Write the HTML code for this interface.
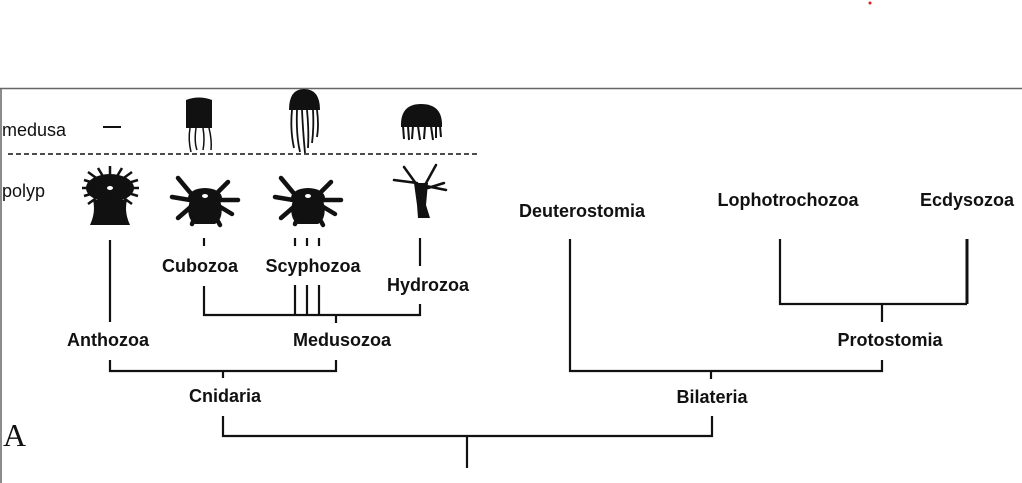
<!DOCTYPE html>
<html><head><meta charset="utf-8"><style>
body{margin:0;background:#fff;}
svg{display:block;}
text{font-family:"Liberation Sans",Arial,sans-serif;font-weight:bold;font-size:18px;fill:#111;}
.n{font-weight:normal;font-size:18px;}
</style></head><body>
<svg width="1022" height="483" viewBox="0 0 1022 483" xmlns="http://www.w3.org/2000/svg">
<rect width="1022" height="483" fill="#fff"/>
<circle cx="870" cy="3" r="1.5" fill="#e02020"/>
<line x1="0" y1="88.5" x2="1022" y2="88.5" stroke="#666" stroke-width="1.5"/>
<line x1="1" y1="88" x2="1" y2="483" stroke="#666" stroke-width="1.5"/>
<text class="n" x="2" y="136">medusa</text>
<text class="n" x="2" y="197">polyp</text>
<line x1="103" y1="127" x2="121" y2="127" stroke="#111" stroke-width="2"/>
<line x1="8" y1="154" x2="478" y2="154" stroke="#111" stroke-width="1.5" stroke-dasharray="5,3"/>
<!-- medusae -->
<g fill="#111" stroke="#111">
<path d="M186 100 Q199 95 212 100 L212 128 L186 128 Z" stroke="none"/>
<path d="M190 128 Q188 140 191 152 M196 128 Q194 142 197 150 M203 128 Q205 140 203 150 M209 128 Q212 140 211 150" fill="none" stroke-width="1.5"/>
<path d="M289 110 Q289 89 304 89 Q320 89 320 110 Z" stroke="none"/>
<path d="M292 110 Q290 130 294 148 M297 110 Q296 135 300 152 M302 110 Q303 132 305 153 M307 110 Q309 130 308 148 M313 110 Q314 128 312 143 M317 110 Q319 125 317 137" fill="none" stroke-width="1.8"/>
<path d="M401 127 Q400 104 421 104 Q443 104 442 127 Z" stroke="none"/>
<path d="M403 126 L404 139 M408 126 L409 140 M413 126 L412 139 M418 126 L420 140 M425 126 L424 139 M431 126 L433 140 M436 126 L436 138 M440 126 L441 137" fill="none" stroke-width="2"/>
</g>
<!-- polyps -->
<g fill="#111" stroke="#111">
<path d="M93 200 Q96 212 90 225 L130 225 Q124 212 127 200 Z" stroke="none"/>
<ellipse cx="110" cy="188" rx="24" ry="14" stroke="none"/>
<g stroke-width="2.5" fill="none">
<path d="M84 180 L138 196 M84 196 L138 180 M88 172 L132 204 M88 204 L132 172 M98 168 L122 208 M110 166 L110 206 M122 168 L98 208 M82 188 L139 188"/>
</g>
<ellipse cx="110" cy="188" rx="3" ry="2" fill="#fff" stroke="none"/>
<g id="cp">
<path d="M190 200 Q185 218 195 224 L215 224 Q225 218 220 200 Z" stroke="none"/>
<ellipse cx="205" cy="198" rx="17" ry="10" stroke="none"/>
<g stroke-width="4.5" fill="none" stroke-linecap="round">
<path d="M193 196 L178 178 M215 195 L228 182 M190 200 L172 197 M220 200 L238 200 M193 205 L178 218 M217 205 L232 214 M198 210 L192 224 M212 210 L220 225"/>
</g>
<ellipse cx="205" cy="196" rx="3" ry="2" fill="#fff" stroke="none"/>
</g>
<use href="#cp" transform="translate(103,0)"/>
<path d="M414 183 L428 183 L426 205 L430 218 L418 218 L417 205 Z" stroke="none"/>
<g stroke-width="2.5" fill="none" stroke-linecap="round">
<path d="M417 185 L404 167 M425 185 L436 165 M417 183 L394 180 M426 186 L446 190 M428 188 L444 183"/>
</g>
</g>
<!-- tree lines -->
<g stroke="#111" stroke-width="2.2" fill="none">
<path d="M110 240 V322"/>
<path d="M204 238 V246 M295 238 V246 M307 238 V246 M319 238 V246 M420 238 V266"/>
<path d="M204 286 V315 H420 V304 M295 285 V315 M307 285 V315 M319 285 V315 M336 315 V323"/>
<path d="M110 360 V371 H336 V360 M223 371 V378"/>
<path d="M223 416 V436 H712 V416 M467 436 V468"/>
<path d="M570 239 V371 H882 V360 M711 371 V379"/>
<path d="M780 239 V304 H967 M882 304 V322"/>
<path d="M967 239 V304" stroke-width="3"/>
</g>
<g text-anchor="middle">
<text x="200" y="272">Cubozoa</text>
<text x="313" y="272">Scyphozoa</text>
<text x="428" y="291">Hydrozoa</text>
<text x="108" y="346">Anthozoa</text>
<text x="342" y="346">Medusozoa</text>
<text x="225" y="402">Cnidaria</text>
<text x="582" y="217">Deuterostomia</text>
<text x="788" y="206">Lophotrochozoa</text>
<text x="967" y="206">Ecdysozoa</text>
<text x="890" y="346">Protostomia</text>
<text x="712" y="403">Bilateria</text>
</g>
<text x="3" y="446" style="font-family:'Liberation Serif',serif;font-weight:normal;font-size:32px;">A</text>
</svg>
</body></html>
